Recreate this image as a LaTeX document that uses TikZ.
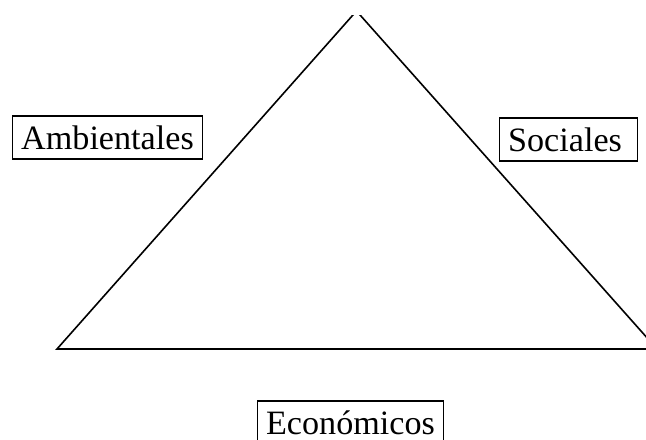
\documentclass[tikz,border=0pt]{standalone}
\usepackage{fontspec}
\setmainfont{Liberation Serif}
\usepackage{tikz}
\tikzset{
    side/.style={line width=1.2pt, black},
    % Label boxes
    dimension/.style={rectangle, draw, line width=1.1pt, minimum height=32.25pt,
        inner xsep=6.5pt, font=\fontsize{25.6}{30}\selectfont}
}
\begin{document}
\begin{tikzpicture}[x=0.75pt, y=-0.75pt]
\clip (0,0) rectangle (646,439);

% Triangle corners
\coordinate (top) at (356.5,11);
\coordinate (left) at (57,349);
\coordinate (right) at (657,349);

\begin{scope}
    \clip (0,15) rectangle (646,439);
    \draw[side] (left) -- (top) -- (right) -- cycle;
\end{scope}

% Labels
\node[dimension] (amb) at (107.5,137.5) {Ambientales};
\node[dimension, text width=90.5pt, align=left] (soc) at (568.5,139.5) {Sociales};
\node[dimension] (eco) at (350.5,422.5) {Económicos};
\end{tikzpicture}
\end{document}
